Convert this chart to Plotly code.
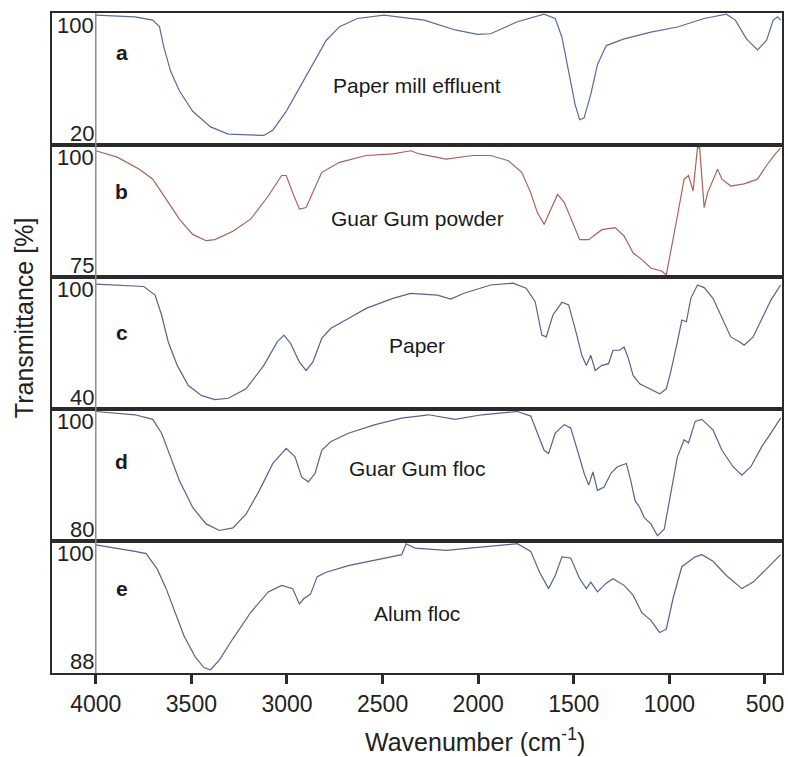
import plotly.graph_objects as go
from plotly.subplots import make_subplots

# ---------------- data ----------------
panel_letters = ["a", "b", "c", "d", "e"]
panel_names = ["Paper mill effluent", "Guar Gum powder", "Paper", "Guar Gum floc", "Alum floc"]
ytick_top = ["100", "100", "100", "100", "100"]
ytick_bottom = ["20", "75", "40", "80", "88"]
xtick_vals = [4000, 3500, 3000, 2500, 2000, 1500, 1000, 500]
x_title = "Wavenumber (cm<sup>-1</sup>)"
y_title = "Transmittance [%]"

wn_a = [4000, 3795, 3702, 3667, 3644, 3609, 3563, 3493, 3400, 3307, 3121, 3074, 3004, 2935, 2865, 2795,
        2725, 2632, 2493, 2283, 2120, 2004, 1935, 1795, 1656, 1597, 1562, 1527, 1493, 1469, 1446, 1411,
        1376, 1330, 1237, 1097, 958, 818, 702, 655, 597, 539, 492, 457, 434, 418]
t_a = [99, 98, 96, 92, 79.5, 65, 53, 40.5, 31, 26.6, 25.8, 29, 40.5, 55, 69, 83.6,
       92, 97, 99, 96, 90, 87.3, 87.7, 95, 99.6, 97, 85.6, 65, 44.6, 35.4, 36.5, 50.8,
       69, 80.5, 84.6, 88.7, 91.8, 97, 99.6, 96, 84.6, 77.9, 83.6, 96, 98, 96]

wn_b = [4000, 3888, 3772, 3702, 3632, 3563, 3493, 3423, 3377, 3283, 3190, 3098, 3028, 3004, 2970, 2935,
        2900, 2865, 2818, 2725, 2586, 2446, 2353, 2307, 2167, 2028, 1935, 1842, 1772, 1725, 1690, 1655,
        1620, 1585, 1550, 1515, 1469, 1422, 1353, 1283, 1237, 1190, 1144, 1097, 1039, 1016, 993, 958,
        923, 900, 876, 865, 853, 842, 830, 818, 800, 772, 748, 725, 679, 609, 539, 492, 446, 418]
t_b = [99, 97.8, 95.5, 93.6, 89.8, 86, 83.1, 81.9, 82.1, 83.7, 86, 90.4, 94.3, 94.3, 91, 87.9,
       88.2, 91, 94.9, 96.8, 98.1, 98.4, 99, 98.4, 97.4, 98.1, 98.1, 97.1, 94.9, 91, 87.2, 85,
       87.9, 90.7, 89.2, 86, 82.1, 82.1, 84, 84.4, 82.8, 79.6, 78.3, 76.7, 76.1, 75.4, 79.6, 86.6,
       93.6, 94.3, 91.4, 95.5, 99.6, 99.6, 93, 88.2, 91, 93.6, 95.5, 93.6, 92.3, 92.7, 93.6, 96.2, 98.4, 99.5]

wn_c = [4000, 3888, 3749, 3690, 3656, 3621, 3574, 3516, 3446, 3377, 3307, 3214, 3121, 3051, 3016, 2981,
        2935, 2900, 2865, 2818, 2772, 2679, 2586, 2446, 2353, 2213, 2144, 2074, 1935, 1818, 1749, 1702,
        1667, 1644, 1609, 1562, 1527, 1493, 1458, 1434, 1411, 1388, 1353, 1318, 1295, 1260, 1237, 1214,
        1190, 1155, 1120, 1086, 1051, 1016, 993, 958, 935, 911, 888, 853, 818, 772, 725, 679, 632, 609,
        562, 516, 469, 418]
t_c = [97, 96.6, 95.9, 92, 82.9, 70.6, 59.9, 50.7, 46.1, 44.3, 44.9, 49.2, 59.9, 70.6, 73.7, 69.9,
       61.4, 57.6, 61.4, 72.2, 76.7, 81.3, 85.9, 90.5, 92.8, 92, 90.2, 92.8, 96.6, 97.4, 95.1, 89,
       73.7, 72.9, 82.9, 88.7, 87.5, 76.7, 64.5, 59.9, 64.5, 57.6, 59.9, 60.7, 66.8, 66.8, 68.3, 63,
       55.3, 51.5, 50, 48.4, 46.9, 49.2, 56.9, 70.6, 80.6, 79.8, 90.5, 96.6, 95.4, 90.5, 81.3, 72.9, 70.6, 69.1,
       72.9, 81.3, 89.7, 96.6]

wn_d = [4000, 3795, 3702, 3656, 3609, 3563, 3493, 3423, 3353, 3283, 3214, 3144, 3074, 3004, 2958, 2923,
        2888, 2853, 2818, 2772, 2679, 2539, 2400, 2260, 2120, 1981, 1795, 1725, 1690, 1655, 1632, 1597,
        1550, 1516, 1481, 1446, 1422, 1400, 1376, 1341, 1306, 1272, 1225, 1202, 1179, 1155, 1132, 1097,
        1062, 1027, 993, 958, 923, 900, 865, 830, 772, 725, 667, 621, 574, 516, 469, 418]
t_d = [99.7, 99.2, 98.5, 96.4, 92.8, 89.2, 85.1, 82.6, 81.6, 82, 84.1, 87.7, 91.8, 94.1, 92.8, 89.7,
       89, 90.3, 93.8, 95.1, 96.4, 97.7, 98.7, 99.2, 98.5, 99.2, 99.7, 99, 96.4, 93.8, 93.3, 96.4,
       97.7, 97.2, 93.8, 90.3, 88.5, 90.5, 87.7, 88.2, 90.3, 91.3, 91.8, 89.2, 86.1, 85.1, 83.6, 82.6,
       80.8, 81.8, 87.2, 92.8, 95.4, 94.9, 98.2, 98.5, 96.9, 93.8, 91.3, 90, 91.3, 94.4, 96.4, 98.7]

wn_e = [4000, 3888, 3795, 3737, 3679, 3632, 3586, 3539, 3481, 3435, 3400, 3353, 3284, 3191, 3098, 3028,
        2970, 2935, 2911, 2877, 2842, 2795, 2679, 2539, 2400, 2377, 2330, 2167, 1981, 1795, 1725, 1679,
        1632, 1597, 1562, 1516, 1469, 1434, 1411, 1376, 1330, 1295, 1237, 1190, 1144, 1097, 1051, 1016,
        981, 935, 865, 830, 772, 702, 621, 562, 492, 418]
t_e = [99.7, 99.4, 99.1, 98.9, 97.5, 95.7, 93.5, 91.4, 89.5, 88.5, 88.3, 89.2, 91.1, 93.5, 95.4, 96,
       95.7, 94.3, 94.8, 95.2, 96.8, 97.2, 97.8, 98.3, 98.8, 99.8, 99.4, 99.2, 99.5, 99.8, 99.1, 97.2,
       95.7, 96.9, 98.6, 98.5, 96.6, 95.7, 96.3, 95.4, 96.2, 96.6, 96, 95.1, 93.5, 92.8, 91.7, 92,
       94.8, 97.7, 98.6, 98.8, 98.2, 96.9, 95.7, 96.3, 97.5, 98.8]

wavenumbers = [wn_a, wn_b, wn_c, wn_d, wn_e]
transmittance = [t_a, t_b, t_c, t_d, t_e]
line_colors = ["#5b6a9c", "#a5645c", "#56638f", "#56638f", "#56638f"]

# ---------------- figure ----------------
FONT = "Liberation Sans, Arial, sans-serif"
X_RANGE = [4229, 411]
FRAME = "#2b2b2b"
TXT = "#222222"

fig = make_subplots(rows=5, cols=1, shared_xaxes=True, vertical_spacing=0)

letter_y = [0.80, 0.65, 0.58, 0.60, 0.64]
name_y = [0.45, 0.44, 0.48, 0.55, 0.45]

for i in range(5):
    r = i + 1
    xref = "x" if r == 1 else f"x{r}"
    yref = "y" if r == 1 else f"y{r}"
    fig.add_trace(go.Scatter(x=wavenumbers[i], y=transmittance[i], mode="lines",
                             line=dict(color=line_colors[i], width=1.2),
                             showlegend=False, hoverinfo="skip"), row=r, col=1)
    low = float(ytick_bottom[i])
    high = float(ytick_top[i])
    fig.update_yaxes(range=[low, high + 0.004 * (high - low)], showticklabels=False, ticks="",
                     showgrid=False, zeroline=False, showline=True, mirror=True,
                     linecolor=FRAME, linewidth=2, row=r, col=1)
    fig.update_xaxes(range=X_RANGE, showgrid=False, zeroline=False, showline=True, mirror=True,
                     linecolor=FRAME, linewidth=2, row=r, col=1)
    # inner grey line at 4000
    fig.add_shape(type="line", x0=4000, x1=4000, y0=0, y1=1, xref=xref, yref=yref + " domain",
                  line=dict(color="#8c8c8c", width=1.5))
    # y tick labels (top and bottom of each panel)
    fig.add_annotation(x=4000, y=1, xref=xref, yref=yref + " domain", text=ytick_top[i],
                       showarrow=False, xanchor="right", yanchor="top", xshift=-1, yshift=1,
                       borderpad=0, font=dict(family=FONT, size=22, color=TXT))
    fig.add_annotation(x=4000, y=0, xref=xref, yref=yref + " domain", text=ytick_bottom[i],
                       showarrow=False, xanchor="right", yanchor="bottom", xshift=-1, yshift=-2,
                       borderpad=0, font=dict(family=FONT, size=22, color=TXT))
    # panel letter and sample name
    fig.add_annotation(x=3864, y=letter_y[i], xref=xref, yref=yref + " domain",
                       text=f"<b>{panel_letters[i]}</b>", showarrow=False,
                       font=dict(family=FONT, size=21, color="#1a1a1a"))
    fig.add_annotation(x=2320, y=name_y[i], xref=xref, yref=yref + " domain",
                       text=panel_names[i], showarrow=False,
                       font=dict(family=FONT, size=21, color="#1a1a1a"))

fig.update_xaxes(tickmode="array", tickvals=xtick_vals, ticktext=[str(v) for v in xtick_vals],
                 ticks="outside", ticklen=9, tickwidth=2.5, tickcolor=FRAME,
                 tickfont=dict(family=FONT, size=23, color=TXT),
                 row=5, col=1)

fig.add_annotation(x=0.579, y=-0.1015, xref="paper", yref="paper", text=x_title,
                   showarrow=False, xanchor="center", yanchor="middle",
                   font=dict(family=FONT, size=25, color=TXT))
fig.add_annotation(x=-0.038, y=0.538, xref="paper", yref="paper", text=y_title,
                   textangle=-90, showarrow=False, xanchor="center", yanchor="middle",
                   font=dict(family=FONT, size=25, color=TXT))

fig.update_layout(width=788, height=757, margin=dict(l=52, r=4, t=13, b=84),
                  plot_bgcolor="white", paper_bgcolor="white")

fig.write_html("out.html")
